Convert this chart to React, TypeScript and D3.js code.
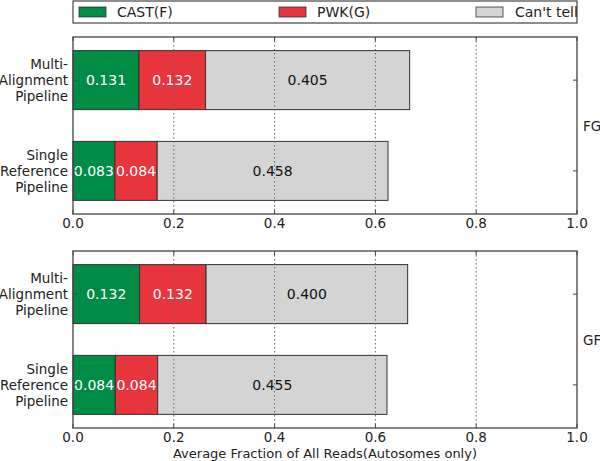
import React from "react";
import * as d3 from "d3";

const categories = ["Multi-\nAlignment\nPipeline", "Single\nReference\nPipeline"];
const panels = ["FG", "GF"];
const seriesNames = ["CAST(F)", "PWK(G)", "Can't tell"];
const seriesColors = ["#008c45", "#e8343c", "#d4d4d4"];
const seriesTextColors = ["#ffffff", "#ffffff", "#111111"];
const castFG = [0.131, 0.083];
const pwkFG = [0.132, 0.084];
const cantFG = [0.405, 0.458];
const castGF = [0.132, 0.084];
const pwkGF = [0.132, 0.084];
const cantGF = [0.4, 0.455];
const xTicks = [0, 0.2, 0.4, 0.6, 0.8, 1.0];
const gridTicks = [0.2, 0.4, 0.6, 0.8];
const xTitle = "Average Fraction of All Reads(Autosomes only)";

const W = 600, H = 461;
const L = 73, R = 577;
const panelTops = [37, 251];
const panelH = 177;
const font = "DejaVu Sans, sans-serif";

export default function App() {
  const x = d3.scaleLinear().domain([0, 1]).range([L, R]);
  const panelData = [
    [castFG, pwkFG, cantFG],
    [castGF, pwkGF, cantGF],
  ];
  return (
    <svg width={W} height={H} style={{ position: "absolute", left: 0, top: 0 }} fontFamily={font}>
      <rect width={W} height={H} fill="#fff" />
      <g>
        <rect x={L} y={1} width={R - L} height={22} fill="#fff" stroke="#444" strokeWidth={1.2} />
        {seriesNames.map((n, i) => {
          const sx = [79, 279, 476][i];
          const tx = [117, 317, 515][i];
          return (
            <g key={n}>
              <rect x={sx} y={7} width={27} height={10} fill={seriesColors[i]} stroke="#333" strokeWidth={0.8} />
              <text x={tx} y={17} fontSize={14} fill="#222">{n}</text>
            </g>
          );
        })}
      </g>
      {panelData.map((series, pi) => {
        const top = panelTops[pi];
        const y = d3.scaleBand().domain(categories).range([top, top + panelH]).paddingInner(0.35).paddingOuter(0.15);
        const stacks = categories.map((c, ci) => {
          let acc = 0;
          return series.map((s, si) => {
            const v = s[ci];
            const seg = { x0: acc, x1: acc + v, v, si };
            acc += v;
            return seg;
          });
        });
        return (
          <g key={pi}>
            <rect x={L} y={top} width={R - L} height={panelH} fill="#fff" />
            {categories.map((c, ci) => (
              <g key={c}>
                {stacks[ci].map((seg) => (
                  <g key={seg.si}>
                    <rect x={x(seg.x0)} y={y(c)!} width={x(seg.x1) - x(seg.x0)} height={y.bandwidth()}
                      fill={seriesColors[seg.si]} stroke="#333" strokeWidth={1} />
                    <text x={(x(seg.x0) + x(seg.x1)) / 2} y={y(c)! + y.bandwidth() / 2 + 5} textAnchor="middle"
                      fontSize={14} fill={seriesTextColors[seg.si]}>{seg.v.toFixed(3)}</text>
                  </g>
                ))}
                <text x={L - 5} y={y(c)! + y.bandwidth() / 2} textAnchor="end" fontSize={13.5} fill="#222">
                  {c.split("\n").map((line, li) => (
                    <tspan key={li} x={L - 5} dy={li === 0 ? -11 : 16}>{line}</tspan>
                  ))}
                </text>
                <line x1={L} x2={L + 4} y1={y(c)! + y.bandwidth() / 2} y2={y(c)! + y.bandwidth() / 2} stroke="#444" />
                <line x1={R} x2={R - 4} y1={y(c)! + y.bandwidth() / 2} y2={y(c)! + y.bandwidth() / 2} stroke="#444" />
              </g>
            ))}
            {gridTicks.map((t) => (
              <line key={t} x1={x(t)} x2={x(t)} y1={top} y2={top + panelH} stroke="#666" strokeWidth={1} strokeDasharray="1.5,2.5" />
            ))}
            {xTicks.map((t) => (
              <g key={t}>
                <line x1={x(t)} x2={x(t)} y1={top} y2={top + 4} stroke="#444" />
                <line x1={x(t)} x2={x(t)} y1={top + panelH} y2={top + panelH - 4} stroke="#444" />
                <text x={x(t)} y={top + panelH + 14} textAnchor="middle" fontSize={13.5} fill="#222">{t.toFixed(1)}</text>
              </g>
            ))}
            <rect x={L} y={top} width={R - L} height={panelH} fill="none" stroke="#444" strokeWidth={1.3} />
            <text x={583} y={top + panelH / 2 + 5} fontSize={13.5} fill="#222">{panels[pi]}</text>
          </g>
        );
      })}
      <text x={(L + R) / 2} y={458} textAnchor="middle" fontSize={13} fill="#222">{xTitle}</text>
    </svg>
  );
}
